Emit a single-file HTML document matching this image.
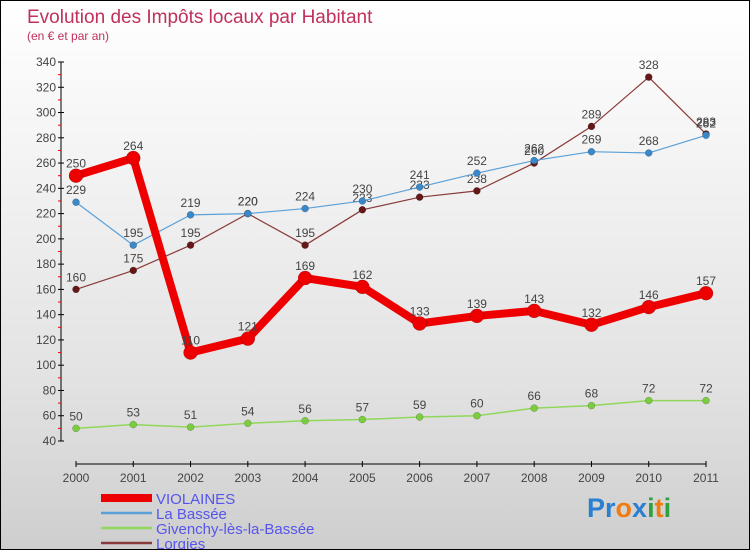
<!DOCTYPE html>
<html><head><meta charset="utf-8"><style>
body{margin:0}
#c{width:750px;height:550px;position:relative;box-sizing:border-box;border:1px solid #000;background:linear-gradient(#ffffff,#f3f3f3 30%,#e2e2e2 70%,#cecece);font-family:"Liberation Sans",sans-serif;overflow:hidden}
</style></head><body>
<div id="c">
<svg id="s" width="750" height="550" style="position:absolute;left:0;top:0">
<text x="26" y="22" font-size="19" fill="#c0305a">Evolution des Impôts locaux par Habitant</text>
<text x="26" y="39" font-size="12" fill="#c0305a">(en € et par an)</text>
<g id="ax"></g><g id="ser"></g>
<text x="586" y="516" font-size="27" font-weight="bold"><tspan fill="#2a7fd0">P</tspan><tspan fill="#2a7fd0">r</tspan><tspan fill="#f07b10">o</tspan><tspan fill="#2a7fd0">x</tspan><tspan fill="#30a040">i</tspan><tspan fill="#f07b10">t</tspan><tspan fill="#30a040">i</tspan></text>
</svg>
</div>
<script>
const years=[2000,2001,2002,2003,2004,2005,2006,2007,2008,2009,2010,2011];
const violaines=[250,264,110,121,169,162,133,139,143,132,146,157];
const labassee=[229,195,219,220,224,230,241,252,262,269,268,282];
const givenchy=[50,53,51,54,56,57,59,60,66,68,72,72];
const lorgies=[160,175,195,220,195,223,233,238,260,289,328,283];
const yTicks=[40,60,80,100,120,140,160,180,200,220,240,260,280,300,320,340];
const NS="http://www.w3.org/2000/svg";
const X=i=>75+i*(630/11);
const Y=v=>440-(v-40)*(379/300);
function mk(p,t,a){const e=document.createElementNS(NS,t);for(const k in a)e.setAttribute(k,a[k]);p.appendChild(e);return e;}
const ax=document.getElementById('ax');
let e=mk(ax,'line',{x1:60,y1:61,x2:60,y2:440,stroke:'#000'});


e=mk(ax,'line',{x1:75,y1:463,x2:705,y2:463,stroke:'#000'});


yTicks.forEach(v=>{const y=Y(v);
mk(ax,'line',{x1:57,y1:y,x2:63,y2:y,stroke:'#000'});
if(v<340)mk(ax,'line',{x1:57,y1:Y(v+10),x2:60,y2:Y(v+10),stroke:'#e00'});
const t=mk(ax,'text',{x:55,y:y+4,'font-size':12,fill:'#444','text-anchor':'end'});t.textContent=v;

});
years.forEach((yr,i)=>{const x=X(i);
mk(ax,'line',{x1:x,y1:460,x2:x,y2:466,stroke:'#000'});
const t=mk(ax,'text',{x:x,y:481,'font-size':12,fill:'#444','text-anchor':'middle'});t.textContent=yr;

});
const ser=document.getElementById('ser');
const series=[
{n:'givenchy',d:givenchy,c:'#8fd85a',dot:'#7ccc40',w:1.5,r:3.5,l:'Givenchy-lès-la-Bassée'},
{n:'lorgies',d:lorgies,c:'#8a3a3a',dot:'#661818',w:1.2,r:3.5,l:'Lorgies'},
{n:'la-bassee',d:labassee,c:'#5aa0d8',dot:'#3a88c8',w:1.2,r:3.5,l:'La Bassée'},
{n:'violaines',d:violaines,c:'#ee0000',dot:'#ee0000',w:8,r:7,l:'VIOLAINES'}];
series.forEach(s=>{const g=mk(ser,'g',{});


const pl=mk(g,'polyline',{points:s.d.map((v,i)=>X(i)+','+Y(v)).join(' '),fill:'none',stroke:s.c,'stroke-width':s.w,'stroke-linejoin':'round'});


s.d.forEach((v,i)=>{const c=mk(g,'circle',{cx:X(i),cy:Y(v),r:s.r,fill:s.dot,stroke:'rgba(0,0,0,0.3)','stroke-width':0.5});


const t=mk(g,'text',{x:X(i),y:Y(v)-8,'font-size':12,fill:'#444','text-anchor':'middle'});t.textContent=v;

});});
const leg=[series[3],series[2],series[0],series[1]];
leg.forEach((s,i)=>{const y=497+i*15;
const g=mk(ser,'g',{});


mk(g,'line',{x1:100,y1:y,x2:151,y2:y,stroke:s.c,'stroke-width':i==0?8:2.5});
const t=mk(g,'text',{x:155,y:y+6,'font-size':15,fill:'#5555ee'});t.textContent=s.l;});
</script>
</body></html>
